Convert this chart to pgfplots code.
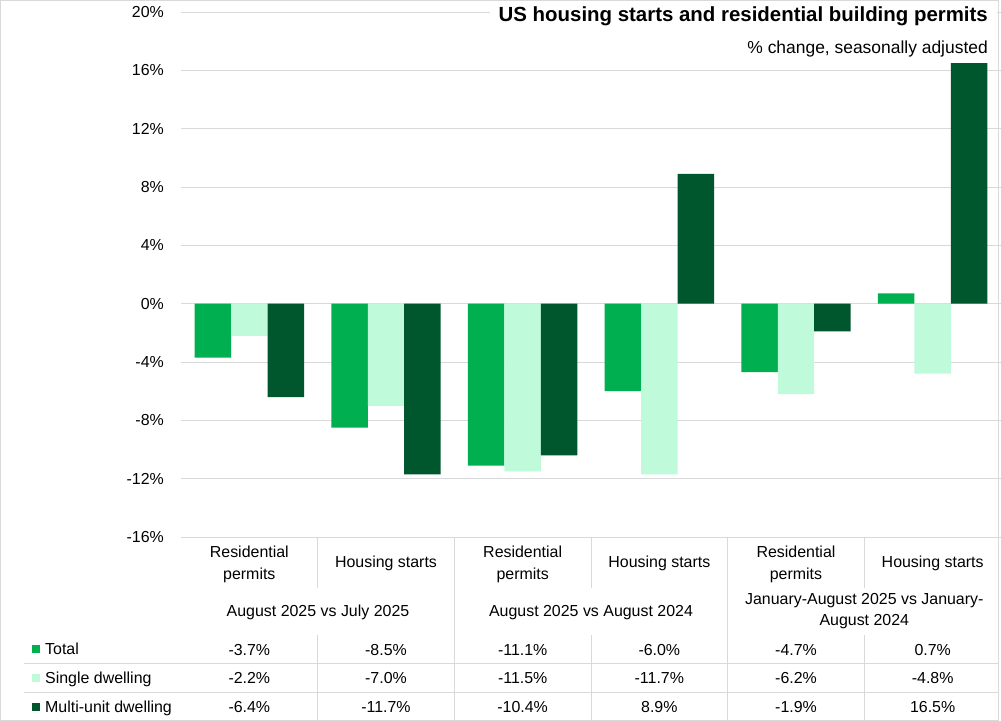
\documentclass[border=0pt]{standalone}
\usepackage{fontspec}
\setmainfont{Liberation Sans}
\usepackage{pgfplots}
\pgfplotsset{compat=1.18}

\definecolor{cTotal}{HTML}{00B050}
\definecolor{cSingle}{HTML}{BFFBDB}
\definecolor{cMulti}{HTML}{00562D}
\definecolor{gridgray}{HTML}{D9D9D9}

\newcommand\body{\fontsize{16}{19}\selectfont}

\begin{document}
\begin{tikzpicture}
\useasboundingbox (0,0) rectangle (1001bp,-721bp);
\fill[white] (0,0) rectangle (1001bp,-721bp);

\begin{axis}[
  at={(181bp,-537bp)}, anchor=south west,
  width=820bp, height=525bp, scale only axis,
  xmin=0, xmax=6, ymin=-16, ymax=20,
  ytick={-16,-12,...,20},
  yticklabels={-16\%,-12\%,-8\%,-4\%,0\%,4\%,8\%,12\%,16\%,20\%},
  xtick=\empty,
  ymajorgrids, grid style={draw=gridgray, line width=0.9bp},
  axis line style={draw=none},
  major tick length=0pt,
  yticklabel style={font=\body, anchor=east, inner sep=0pt, xshift=-17bp},
  ybar=0pt, bar width=36.45bp,
  clip=false,
]
% Total
\addplot[fill=cTotal, draw=none] coordinates {
  (0.5,-3.7) (1.5,-8.5) (2.5,-11.1) (3.5,-6.0) (4.5,-4.7) (5.5,0.7)};
% Single dwelling
\addplot[fill=cSingle, draw=none] coordinates {
  (0.5,-2.2) (1.5,-7.0) (2.5,-11.5) (3.5,-11.7) (4.5,-6.2) (5.5,-4.8)};
% Multi-unit dwelling
\addplot[fill=cMulti, draw=none] coordinates {
  (0.5,-6.4) (1.5,-11.7) (2.5,-10.4) (3.5,8.9) (4.5,-1.9) (5.5,16.5)};
\end{axis}

% title block
\node[anchor=base east, fill=white, inner xsep=9bp, inner ysep=5bp,
  font=\fontsize{20.5}{24}\selectfont\bfseries] at (997bp,-21bp)
  {US housing starts and residential building permits};
\node[anchor=base east, inner sep=0pt, font=\fontsize{17.5}{21}\selectfont]
  at (988bp,-53bp) {\% change, seasonally adjusted};

% data table rules
\begin{scope}[gridgray, line width=0.9bp]
  \draw (24bp,-663bp) -- (998.5bp,-663bp);
  \draw (24bp,-692bp) -- (998.5bp,-692bp);
  \foreach \k in {1,3,5} {
    \draw ({(181+136.67*\k)*1bp},-537bp) -- ({(181+136.67*\k)*1bp},-588bp);
    \draw ({(181+136.67*\k)*1bp},-635bp) -- ({(181+136.67*\k)*1bp},-720bp);
  }
  \foreach \k in {2,4}
    \draw ({(181+136.67*\k)*1bp},-537bp) -- ({(181+136.67*\k)*1bp},-720bp);
  \draw (0.5bp,-0.5bp) rectangle (998.5bp,-720.5bp);
\end{scope}

\begin{scope}[every node/.style={inner sep=0pt, font=\body}]
  % category labels
  \foreach \k in {0,2,4} {
    \node[anchor=base] at ({(181+136.67*(\k+0.5))*1bp},-557bp) {Residential};
    \node[anchor=base] at ({(181+136.67*(\k+0.5))*1bp},-579bp) {permits};
  }
  \foreach \k in {1,3,5}
    \node[anchor=base] at ({(181+136.67*(\k+0.5))*1bp},-567bp) {Housing starts};
  % group labels
  \node[anchor=base] at (318bp,-616bp) {August 2025 vs July 2025};
  \node[anchor=base] at (591bp,-616bp) {August 2025 vs August 2024};
  \node[anchor=base] at (864.3bp,-604bp) {January-August 2025 vs January-};
  \node[anchor=base] at (864.3bp,-625.5bp) {August 2024};
  % legend keys
  \fill[cTotal] (31.5bp,-645bp) rectangle (39.5bp,-653bp);
  \fill[cSingle] (31.5bp,-674bp) rectangle (39.5bp,-682bp);
  \fill[cMulti] (31.5bp,-703bp) rectangle (39.5bp,-711bp);
  \node[anchor=base west] at (45bp,-654bp) {Total};
  \node[anchor=base west] at (45bp,-683bp) {Single dwelling};
  \node[anchor=base west] at (45bp,-712bp) {Multi-unit dwelling};
  % values
  \foreach \v [count=\i from 0] in {-3.7\%,-8.5\%,-11.1\%,-6.0\%,-4.7\%,0.7\%}
    \node[anchor=base] at ({(181+136.67*(\i+0.5))*1bp},-655bp) {\v};
  \foreach \v [count=\i from 0] in {-2.2\%,-7.0\%,-11.5\%,-11.7\%,-6.2\%,-4.8\%}
    \node[anchor=base] at ({(181+136.67*(\i+0.5))*1bp},-683.5bp) {\v};
  \foreach \v [count=\i from 0] in {-6.4\%,-11.7\%,-10.4\%,8.9\%,-1.9\%,16.5\%}
    \node[anchor=base] at ({(181+136.67*(\i+0.5))*1bp},-712bp) {\v};
\end{scope}
\end{tikzpicture}
\end{document}
